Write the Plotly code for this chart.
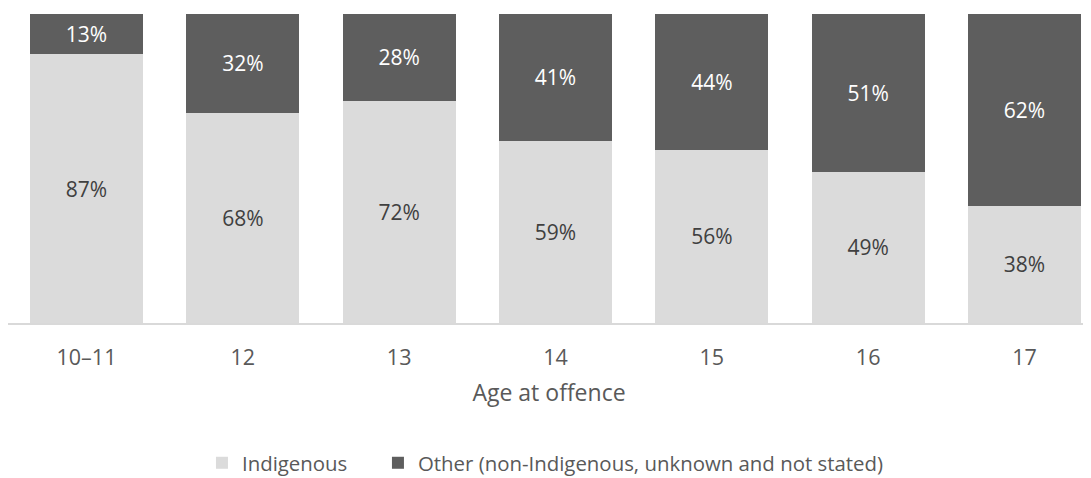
import plotly.graph_objects as go

categories = ["10–11", "12", "13", "14", "15", "16", "17"]
indigenous = [87, 68, 72, 59, 56, 49, 38]
other = [13, 32, 28, 41, 44, 51, 62]
series_names = ["Indigenous", "Other (non-Indigenous, unknown and not stated)"]

FONT = "Open Sans"
LIGHT = "#dbdbdb"
DARK = "#5e5e5e"
TXT = "#595959"

fig = go.Figure()
fig.add_trace(go.Bar(
    x=categories, y=indigenous, name=series_names[0],
    marker=dict(color=LIGHT, line=dict(width=0)),
    width=0.723, legend="legend",
    text=[f"{v}%" for v in indigenous], textposition="inside",
    insidetextanchor="middle", textangle=0, constraintext="none",
    textfont=dict(family=FONT, size=21, color="#404040"),
    hoverinfo="skip",
))
fig.add_trace(go.Bar(
    x=categories, y=other, name=series_names[1],
    marker=dict(color=DARK, line=dict(width=0)),
    width=0.723, legend="legend2",
    text=[f"{v}%" for v in other], textposition="inside",
    insidetextanchor="middle", textangle=0, constraintext="none",
    textfont=dict(family=FONT, size=21, color="#ffffff"),
    hoverinfo="skip",
))

legend_common = dict(
    orientation="h", xref="container", yref="container",
    xanchor="left", y=0.0319, yanchor="middle",
    font=dict(family=FONT, size=20.4, color=TXT),
    itemclick=False, itemdoubleclick=False, bgcolor="rgba(0,0,0,0)",
)

fig.update_layout(
    barmode="stack",
    width=1083, height=470,
    margin=dict(l=0, r=1, t=6, b=155, autoexpand=False),
    paper_bgcolor="white", plot_bgcolor="white",
    font=dict(family=FONT, size=20, color=TXT),
    showlegend=True,
    legend=dict(x=0.1791, **legend_common),
    legend2=dict(x=0.3416, **legend_common),
    xaxis=dict(
        type="category", range=[-0.502, 6.419],
        showline=True, linecolor="#d9d9d9", linewidth=1.5,
        showgrid=False, zeroline=False, ticks="", ticklabelstandoff=14,
        tickfont=dict(family=FONT, size=21.5, color=TXT),
        title=dict(text="Age at offence", font=dict(family=FONT, size=23, color=TXT), standoff=15),
        fixedrange=True, automargin=False,
    ),
    yaxis=dict(
        range=[0, 100], visible=False, showgrid=False, zeroline=False, fixedrange=True,
    ),
)

fig.write_html("out.html", config={"displayModeBar": False})
